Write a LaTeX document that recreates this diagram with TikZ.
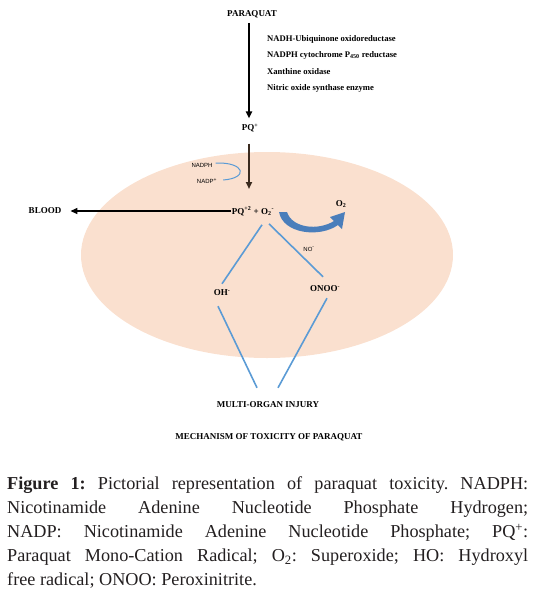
\documentclass[tikz,border=0pt]{standalone}
\usepackage{fontspec}
\setmainfont{Liberation Serif}
\newfontfamily\labelsans{Liberation Sans}
\usetikzlibrary{arrows.meta, calc}

\definecolor{cellfill}{HTML}{FAE0CF}
\definecolor{linkblue}{HTML}{5B9BD5}
\definecolor{bendblue}{HTML}{4A7EBB}
\definecolor{stemdark}{HTML}{3A2A1E}
\definecolor{captext}{HTML}{231F20}

\begin{document}
\begin{tikzpicture}[x=1pt, y=-1pt,
  lbl/.style={font=\fontsize{9}{10}\selectfont\bfseries, inner sep=1pt},
  enz/.style={font=\fontsize{8.6}{9}\selectfont\bfseries, anchor=west, inner sep=0pt},
  small/.style={font=\labelsans\fontsize{6}{7}\selectfont, inner sep=1pt},
  link/.style={linkblue, line width=1.6pt},
  tip/.style={-{Triangle[length=7pt, width=6pt]}}]
  \useasboundingbox (0,0) rectangle (535,600);

  % cell
  \fill[cellfill] (267,255) ellipse (186 and 103);

  % top of the pathway
  \node[lbl] (paraquat) at (252,14) {PARAQUAT};
  \node[enz] (enzone) at (267,39) {NADH-Ubiquinone oxidoreductase};
  \node[enz] (enztwo) at (267,55) {NADPH cytochrome P\textsubscript{450} reductase};
  \node[enz] (enzthree) at (267,72) {Xanthine oxidase};
  \node[enz] (enzfour) at (267,88) {Nitric oxide synthase enzyme};
  \node[lbl] (pqplus) at (250,128) {PQ\textsuperscript{+}};
  \draw[tip, line width=2pt] ($(paraquat.south)+(-3,4)$) -- ($(pqplus.north)+(-1,-4)$);

  % reduction step
  \node[small] (nadph) at (202,165) {NADPH};
  \node[small] (nadp) at (207,181) {NADP\textsuperscript{+}};
  \draw[linkblue, line width=1pt] ($(nadph.east)+(2,-2)$) .. controls (245,162) and (249,178) .. ($(nadp.east)+(5,-1)$);
  \draw[tip, stemdark, line width=1.8pt] ($(pqplus.south)+(-1,10)$) -- (249,189);

  \node[lbl] (pqtwo) at (253,211) {PQ\textsuperscript{+2} + O\textsubscript{2}\textsuperscript{-}};
  \node[lbl] (blood) at (45,211) {BLOOD};
  \draw[tip, line width=1.4pt] (pqtwo.west) -- ($(blood.east)+(8,0)$);

  \node[lbl] (otwo) at (341,204) {O\textsubscript{2}};
  \fill[bendblue] (279,212) .. controls (283,234) and (320,238) .. (338,225)
    -- (342,229) -- (345,212) -- (330,217) -- (334,221)
    .. controls (318,231) and (292,228) .. (287,212) -- cycle;

  % products
  \node[lbl] (oh) at (222,293) {OH\textsuperscript{-}};
  \node[lbl] (onoo) at (325,289) {ONOO\textsuperscript{-}};
  \node[small] (nominus) at (309,249) {NO\textsuperscript{-}};
  \draw[link] ($(pqtwo.south)+(9,8)$) -- ($(oh.north)+(0,-5)$);
  \draw[link] ($(pqtwo.south)+(16,7)$) -- ($(onoo.north)+(-2,-8)$);

  \node[lbl] (injury) at (268,405) {MULTI-ORGAN INJURY};
  \draw[link] ($(oh.south)+(-4,9)$) -- ($(injury.north)+(-11,-13)$);
  \draw[link] ($(onoo.south)+(2,5)$) -- ($(injury.north)+(10,-13)$);

  \node[lbl] (title) at (269,437) {MECHANISM OF TOXICITY OF PARAQUAT};

  % caption
  \node[anchor=north west, inner sep=0pt, text width=521pt, align=justify,
    text=captext, font=\fontsize{18.2}{24.2}\selectfont\frenchspacing] (caption) at (7,476)
    {\textbf{Figure 1:} Pictorial representation of paraquat toxicity. NADPH:\linebreak
     Nicotinamide Adenine Nucleotide Phosphate Hydrogen;\linebreak
     NADP: Nicotinamide Adenine Nucleotide Phosphate; PQ\textsuperscript{+}:\linebreak
     Paraquat Mono-Cation Radical; O\textsubscript{2}: Superoxide; HO: Hydroxyl\linebreak
     free radical; ONOO: Peroxinitrite.};
\end{tikzpicture}
\end{document}
